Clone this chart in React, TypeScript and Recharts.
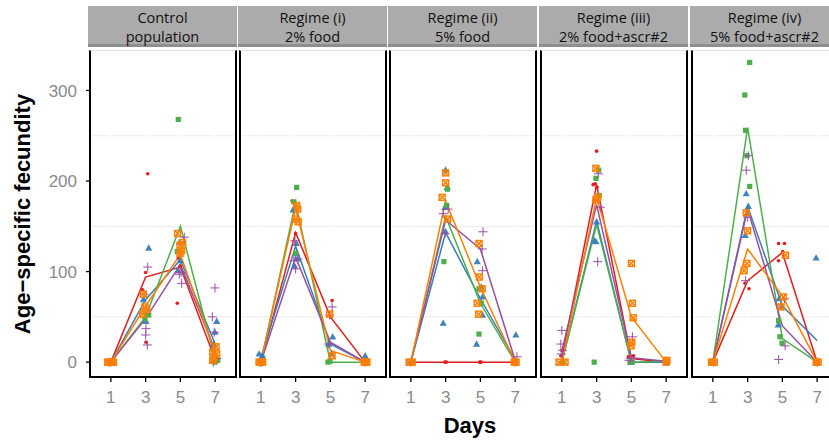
import React from 'react';
import { ScatterChart, Scatter, XAxis, YAxis, CartesianGrid } from 'recharts';

type Pt = [number, number];

// ---------- tick labels / categories ----------
const days = [1, 3, 5, 7];
const yTicks = [0, 100, 200, 300];
const gridValues = [50, 150, 250];
const panelTitles: string[][] = [
  ['Control', 'population'],
  ['Regime (i)', '2% food'],
  ['Regime (ii)', '5% food'],
  ['Regime (iii)', '2% food+ascr#2'],
  ['Regime (iv)', '5% food+ascr#2'],
];
const seriesKeys = ['red', 'blue', 'green', 'purple', 'orange'];

// ---------- Control population (jittered day, fecundity) ----------
const controlRed: Pt[] = [[1.05, 0], [0.95, 0], [1.1, 0], [3.12, 208], [3.0, 99], [2.82, 80], [3.02, 22], [4.88, 115], [4.82, 65], [4.98, 106], [6.93, 2], [7.05, 0]];
const controlBlue: Pt[] = [[0.9, 0], [1.1, 0], [3.18, 126], [2.87, 69], [3.02, 45], [4.94, 132], [4.98, 112], [4.88, 101], [7.09, 45], [6.99, 33], [6.93, 20]];
const controlGreen: Pt[] = [[0.95, 0], [1.12, 0], [3.06, 53], [3.18, 52], [2.96, 48], [4.88, 268], [4.82, 122], [7.15, 2], [6.99, 0]];
const controlPurple: Pt[] = [[1.0, 0], [0.88, 0], [3.12, 105], [2.91, 75], [3.02, 37], [3.0, 30], [3.1, 19], [5.23, 138], [5.04, 99], [5.07, 87], [4.94, 97], [6.99, 82], [6.84, 50], [6.95, 33], [6.9, 0], [7.09, 4]];
const controlOrange: Pt[] = [[0.82, 0], [0.92, 0], [1.05, 0], [1.15, 0], [2.87, 75], [2.96, 61], [2.83, 53], [3.06, 58], [4.84, 142], [4.98, 129], [5.07, 123], [4.98, 120], [5.13, 132], [6.86, 11], [7.05, 17], [6.93, 4], [7.09, 9], [6.86, 2]];
const controlMeans = [[0, 94, 105, 3], [0, 69, 113, 20], [0, 50, 150, 3], [0, 48, 108, 13], [0, 62, 119, 10]];

// ---------- Regime (i) ----------
const regIRed: Pt[] = [[1.0, 0], [1.08, 0], [2.8, 178], [3.0, 142], [5.1, 68], [5.02, 50], [7.0, 0]];
const regIBlue: Pt[] = [[0.9, 9], [1.1, 7], [1.0, 4], [2.85, 168], [3.04, 131], [3.06, 120], [2.94, 106], [3.1, 114], [5.13, 28], [4.9, 20], [5.06, 9], [7.0, 7], [7.08, 2]];
const regIGreen: Pt[] = [[1.0, 0], [3.06, 193], [2.9, 177], [3.0, 120], [4.86, 0], [4.98, 1], [7.05, 0]];
const regIPurple: Pt[] = [[0.95, 0], [1.05, 0], [2.96, 134], [3.13, 114], [2.9, 112], [3.0, 103], [5.1, 61], [4.96, 52], [4.9, 20], [7.0, 0]];
const regIOrange: Pt[] = [[0.9, 0], [1.0, 0], [1.1, 0], [3.06, 173], [3.12, 169], [3.15, 155], [3.0, 158], [4.96, 53], [5.1, 7], [6.95, 0], [7.05, 0], [7.1, 0]];
const regIMeans = [[0, 143, 50, 0], [5, 128, 20, 0], [0, 176, 0, 0], [0, 116, 22, 0], [0, 170, 13, 0]];

// ---------- Regime (ii) ----------
const regIIRed: Pt[] = [[1.0, 0], [2.96, 0], [3.04, 0], [4.96, 0], [5.04, 0], [7.0, 0]];
const regIIBlue: Pt[] = [[0.95, 0], [3.0, 212], [3.1, 193], [2.96, 171], [3.0, 144], [2.86, 43], [4.82, 111], [5.06, 83], [5.12, 72], [5.12, 52], [4.78, 20], [7.04, 30]];
const regIIGreen: Pt[] = [[1.05, 0], [3.1, 191], [3.06, 173], [2.9, 111], [4.92, 81], [5.06, 65], [4.92, 31], [7.0, 0]];
const regIIPurple: Pt[] = [[1.0, 0], [2.86, 164], [3.15, 169], [2.96, 142], [5.15, 144], [5.1, 125], [5.12, 101], [7.1, 6], [7.0, 0]];
const regIIOrange: Pt[] = [[0.9, 0], [1.08, 0], [3.0, 209], [3.0, 198], [2.8, 182], [3.12, 158], [4.92, 131], [4.94, 94], [5.1, 81], [4.82, 65], [4.9, 53], [6.95, 0], [7.05, 0]];
const regIIMeans = [[0, 0, 0, 0], [0, 143, 70, 3], [0, 161, 65, 0], [0, 157, 125, 2], [0, 178, 83, 0]];

// ---------- Regime (iii) ----------
const regIIIRed: Pt[] = [[0.94, 7], [1.0, 13], [1.05, 0], [3.0, 233], [2.92, 197], [2.8, 196], [3.02, 193], [4.82, 6], [5.12, 7], [7.0, 0]];
const regIIIBlue: Pt[] = [[1.0, 0], [3.0, 155], [2.88, 134], [2.96, 133], [4.98, 0], [7.0, 0]];
const regIIIGreen: Pt[] = [[1.05, 0], [3.12, 212], [2.96, 203], [3.15, 184], [2.86, 0], [4.92, 0], [5.06, 0], [7.0, 0]];
const regIIIPurple: Pt[] = [[1.0, 35], [0.94, 20], [1.04, 13], [0.96, 9], [3.1, 208], [3.21, 171], [3.06, 111], [5.06, 28], [4.96, 4], [4.86, 2], [7.0, 1]];
const regIIIOrange: Pt[] = [[0.84, 0], [1.18, 0], [2.96, 214], [3.06, 182], [2.96, 179], [5.0, 109], [5.06, 65], [5.1, 49], [5.02, 22], [4.98, 18], [7.04, 2], [7.0, 0]];
const regIIIMeans = [[5, 196, 4, 0], [0, 156, 0, 0], [0, 152, 0, 1], [12, 174, 5, 1], [0, 182, 50, 0]];

// ---------- Regime (iv) ----------
const regIVRed: Pt[] = [[1.0, 0], [2.85, 87], [3.08, 81], [4.78, 131], [5.12, 131], [5.02, 122], [4.78, 112], [7.0, 0]];
const regIVBlue: Pt[] = [[1.0, 0], [2.92, 186], [3.04, 172], [2.86, 140], [4.82, 70], [4.94, 61], [4.76, 41], [6.94, 115], [7.0, 0]];
const regIVGreen: Pt[] = [[0.95, 0], [3.12, 331], [2.84, 295], [2.88, 256], [3.12, 194], [2.96, 228], [4.78, 46], [4.86, 28], [4.98, 21], [7.0, 0]];
const regIVPurple: Pt[] = [[1.05, 0], [3.04, 228], [2.92, 212], [2.88, 90], [3.0, 160], [5.12, 70], [5.16, 18], [4.78, 3], [7.0, 0]];
const regIVOrange: Pt[] = [[0.92, 0], [1.08, 0], [2.92, 165], [3.0, 145], [2.96, 109], [2.8, 101], [5.18, 118], [5.06, 72], [4.92, 61], [6.95, 0], [7.05, 0]];
const regIVMeans = [[0, 90, 121, 0], [0, 172, 62, 24], [0, 259, 26, 0], [0, 169, 40, 0], [0, 125, 73, 0]];

// ---------- styling ----------
const COLORS: Record<string, string> = {
  red: '#E41A1C',
  blue: '#377EB8',
  green: '#4DAF4A',
  purple: '#984EA3',
  orange: '#FF7F00',
};

const panelPoints: Pt[][][] = [
  [controlRed, controlBlue, controlGreen, controlPurple, controlOrange],
  [regIRed, regIBlue, regIGreen, regIPurple, regIOrange],
  [regIIRed, regIIBlue, regIIGreen, regIIPurple, regIIOrange],
  [regIIIRed, regIIIBlue, regIIIGreen, regIIIPurple, regIIIOrange],
  [regIVRed, regIVBlue, regIVGreen, regIVPurple, regIVOrange],
];
const panelMeans = [controlMeans, regIMeans, regIIMeans, regIIIMeans, regIVMeans];

const panelLefts = [90, 240, 390, 541, 692];
const PANEL_W = 146;
const PANEL_TOP = 50;
const PLOT_H = 327;
const XAXIS_H = 50;
const Y_AXIS_W = 90;
const Y_DOMAIN: [number, number] = [-16.4, 344.7];
const X_DOMAIN: [number, number] = [-0.2, 8.2];

const FONT = '"Liberation Sans", Arial, Helvetica, sans-serif';

const shapes: Record<string, (p: any) => React.ReactElement> = {
  red: (p) => <circle cx={p.cx} cy={p.cy} r={1.8} fill={COLORS.red} />,
  blue: (p) => (
    <polygon
      points={`${p.cx},${p.cy - 3.8} ${p.cx - 3.6},${p.cy + 2.6} ${p.cx + 3.6},${p.cy + 2.6}`}
      fill={COLORS.blue}
      fillOpacity={0.95}
    />
  ),
  green: (p) => <rect x={p.cx - 2.6} y={p.cy - 2.6} width={5.2} height={5.2} fill={COLORS.green} />,
  purple: (p) => (
    <g stroke={COLORS.purple} strokeWidth={1.1} strokeOpacity={0.9}>
      <line x1={p.cx - 4.5} y1={p.cy} x2={p.cx + 4.5} y2={p.cy} />
      <line x1={p.cx} y1={p.cy - 4.5} x2={p.cx} y2={p.cy + 4.5} />
    </g>
  ),
  orange: (p) => (
    <g stroke={COLORS.orange} strokeWidth={1.4} fill="none">
      <rect x={p.cx - 3} y={p.cy - 3} width={6} height={6} />
      <line x1={p.cx - 3} y1={p.cy - 3} x2={p.cx + 3} y2={p.cy + 3} />
      <line x1={p.cx - 3} y1={p.cy + 3} x2={p.cx + 3} y2={p.cy - 3} />
    </g>
  ),
};

const noShape = () => <g />;

function Panel({ idx }: { idx: number }) {
  const first = idx === 0;
  const width = first ? Y_AXIS_W + PANEL_W : PANEL_W;
  const left = first ? 0 : panelLefts[idx];
  const pts = panelPoints[idx];
  const means = panelMeans[idx];
  return (
    <div style={{ position: 'absolute', left, top: PANEL_TOP }}>
      <ScatterChart width={width} height={PLOT_H + XAXIS_H} margin={{ top: 0, right: 0, bottom: 0, left: 0 }}>
        <CartesianGrid horizontalValues={gridValues} vertical={false} stroke="#ebebeb" strokeWidth={1} />
        <CartesianGrid verticalValues={days} horizontal={false} stroke="#ffffff" strokeWidth={1.5} />
        <XAxis
          type="number"
          dataKey="x"
          domain={X_DOMAIN}
          ticks={days}
          allowDataOverflow
          height={XAXIS_H}
          axisLine={false}
          tickSize={5}
          tickMargin={9}
          tickLine={{ stroke: '#000', strokeWidth: 1.3 }}
          tick={{ fill: '#8a8a8a', fontSize: 17, fontFamily: FONT }}
          interval={0}
        />
        <YAxis
          type="number"
          dataKey="y"
          domain={Y_DOMAIN}
          ticks={yTicks}
          allowDataOverflow
          hide={!first}
          width={first ? Y_AXIS_W : 0}
          axisLine={false}
          tickSize={4}
          tickMargin={9}
          tickLine={{ stroke: '#000', strokeWidth: 1.3 }}
          tick={{ fill: '#8a8a8a', fontSize: 17, fontFamily: FONT }}
          interval={0}
        />
        {seriesKeys.map((k, si) => (
          <Scatter
            key={'m' + k}
            data={days.map((d, i) => ({ x: d, y: means[si][i] }))}
            line={{ stroke: COLORS[k], strokeWidth: 1.5 }}
            shape={noShape}
            isAnimationActive={false}
            legendType="none"
          />
        ))}
        {seriesKeys.map((k, si) => (
          <Scatter
            key={'p' + k}
            data={pts[si].map(([x, y]) => ({ x, y }))}
            shape={shapes[k]}
            isAnimationActive={false}
            legendType="none"
          />
        ))}
      </ScatterChart>
    </div>
  );
}

export default function App() {
  return (
    <div
      style={{
        position: 'absolute',
        left: 0,
        top: 0,
        width: 829,
        height: 442,
        overflow: 'hidden',
        background: '#fff',
        fontFamily: FONT,
      }}
    >
      {panelTitles.map((_, i) => (
        <Panel key={i} idx={i} />
      ))}
      {/* panel frames */}
      {panelLefts.map((l, i) => (
        <div
          key={'f' + i}
          style={{
            position: 'absolute',
            left: l - 1,
            top: PANEL_TOP,
            width: PANEL_W + 2,
            height: PLOT_H + 1,
            boxSizing: 'border-box',
            borderLeft: '2px solid #000',
            borderRight: '2px solid #000',
            borderBottom: '2px solid #000',
            borderTop: '1px solid #e2e2e2',
            pointerEvents: 'none',
          }}
        />
      ))}
      {/* strips */}
      {panelTitles.map((t, i) => (
        <div
          key={'s' + i}
          style={{
            position: 'absolute',
            left: panelLefts[i] - 2,
            top: 6,
            width: 149,
            height: 41,
            boxSizing: 'border-box',
            background: '#ababab',
            borderBottom: '3px solid #8e8e8e',
          }}
        >
          <div
            style={{
              position: 'absolute',
              left: 0,
              right: 0,
              top: 2,
              textAlign: 'center',
              fontFamily: '"Open Sans", "Noto Sans", sans-serif',
              fontSize: 14.5,
              lineHeight: '19px',
              color: '#111',
            }}
          >
            <div>{t[0]}</div>
            <div>{t[1]}</div>
          </div>
        </div>
      ))}
      {/* axis titles */}
      <div
        style={{
          position: 'absolute',
          left: 23 - 150,
          top: 214 - 13,
          width: 300,
          height: 26,
          lineHeight: '26px',
          textAlign: 'center',
          transform: 'rotate(-90deg)',
          fontWeight: 'bold',
          fontSize: 22,
          color: '#000',
        }}
      >
        Age−specific fecundity
      </div>
      <div
        style={{
          position: 'absolute',
          left: 470 - 60,
          top: 415,
          width: 120,
          lineHeight: '22px',
          textAlign: 'center',
          fontWeight: 'bold',
          fontSize: 22,
          color: '#000',
        }}
      >
        Days
      </div>
    </div>
  );
}
